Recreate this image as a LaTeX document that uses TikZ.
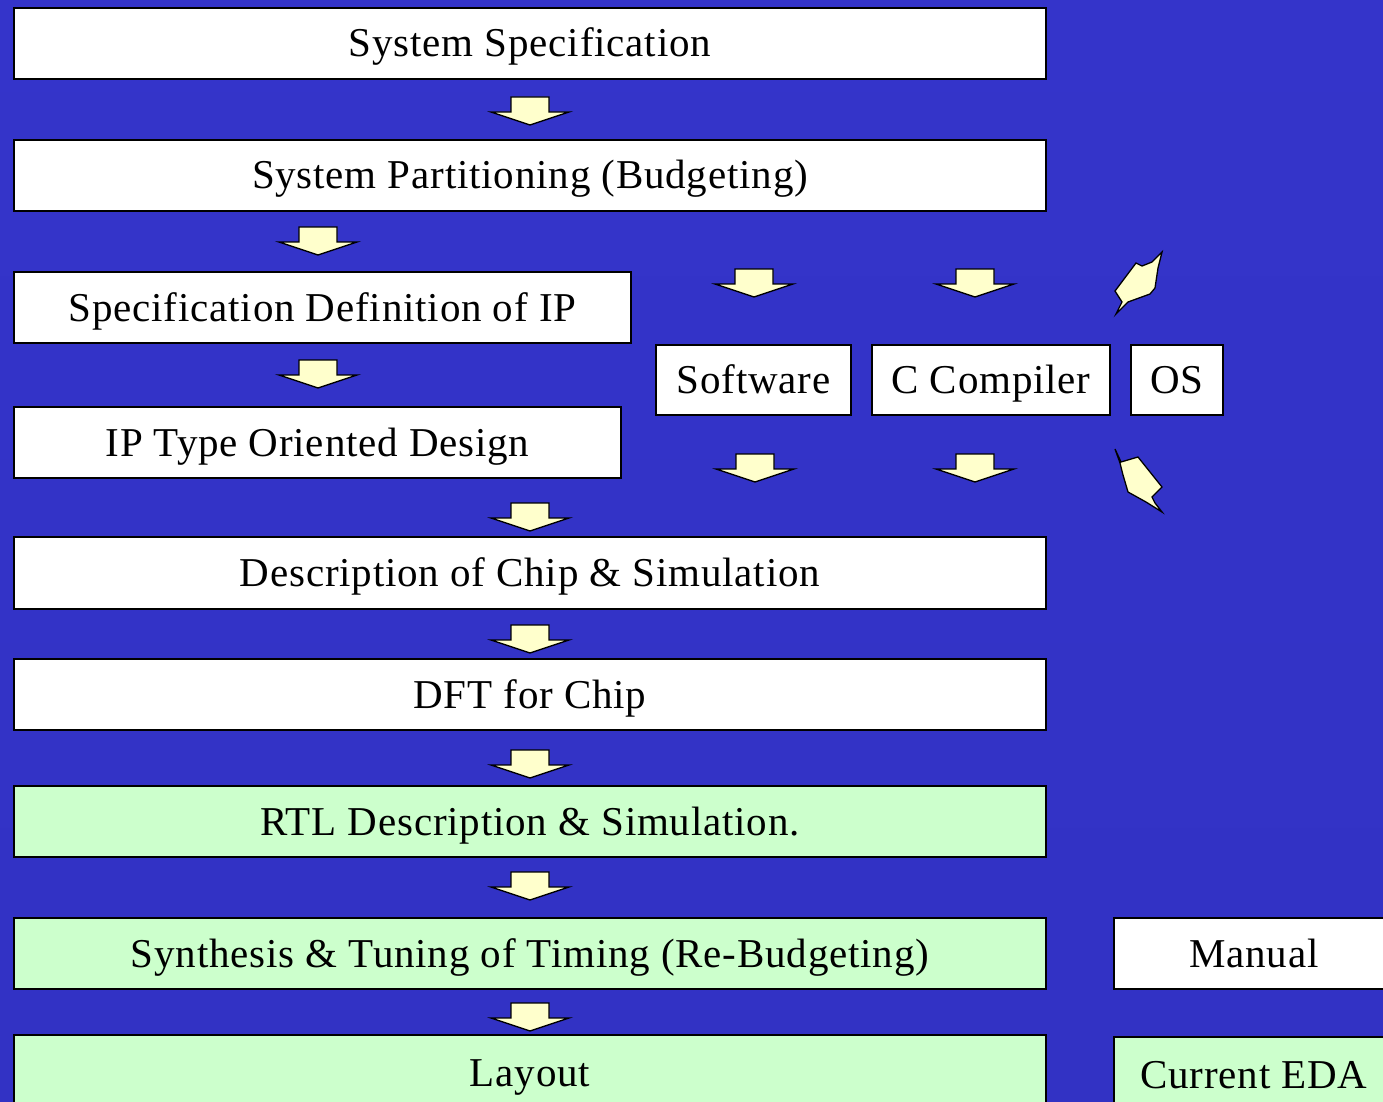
\documentclass[tikz,border=0pt]{standalone}
\usepackage{fontspec}
\setmainfont[LetterSpace=2]{Liberation Serif}
\definecolor{bgtop}{HTML}{3434CA}
\definecolor{bgmid}{HTML}{2A29A8}
\definecolor{bgbot}{HTML}{3232C4}
\definecolor{boxgreen}{HTML}{CCFFCC}
\definecolor{arrowyellow}{HTML}{FFFFCC}
\newcommand{\yarrow}[2]{%
  \filldraw[arrowstyle] (#1-19,#2) -- (#1+19,#2) -- (#1+19,#2+15) -- (#1+39,#2+15)
    -- (#1,#2+28) -- (#1-39,#2+15) -- (#1-19,#2+15) -- cycle;}
\tikzset{
  flowbox/.style={draw=black, line width=2pt, fill=white, inner sep=0pt, outer sep=0pt,
    anchor=north west, font=\fontsize{41}{48}\selectfont, text=black,
    text height=27pt, text depth=0pt},
  greenbox/.style={flowbox, fill=boxgreen},
  arrowstyle/.style={fill=arrowyellow, draw=black, line width=1.3pt, line join=miter}
}
\begin{document}
\begin{tikzpicture}[x=1pt,y=-1pt]
\useasboundingbox (0,0) rectangle (1383,1102);
\clip (0,0) rectangle (1383,1102);
\shade[top color=bgtop, middle color=bgmid, bottom color=bgbot] (0,0) rectangle (1383,1102);

\node[flowbox, minimum width=1032pt, minimum height=71pt] (spec) at (14,8) {System Specification};
\node[flowbox, minimum width=1032pt, minimum height=71pt] (part) at (14,140) {System Partitioning (Budgeting)};
\node[flowbox, minimum width=617pt, minimum height=71pt] (ipdef) at (14,272) {Specification Definition of IP};
\node[flowbox, minimum width=607pt, minimum height=71pt] (iptype) at (14,407) {IP Type Oriented Design};
\node[flowbox, minimum width=1032pt, minimum height=72pt] (desc) at (14,537) {Description of Chip \& Simulation};
\node[flowbox, minimum width=1032pt, minimum height=71pt] (dft) at (14,659) {DFT for Chip};
\node[greenbox, minimum width=1032pt, minimum height=71pt] (rtl) at (14,786) {RTL Description \& Simulation.};
\node[greenbox, minimum width=1032pt, minimum height=71pt] (synth) at (14,918) {Synthesis \& Tuning of Timing (Re-Budgeting)};
\node[greenbox, minimum width=1032pt, minimum height=76pt] (layout) at (14,1035) {Layout};

\node[flowbox, minimum width=195pt, minimum height=70pt] (sw) at (656,345) {Software};
\node[flowbox, minimum width=238pt, minimum height=70pt] (cc) at (872,345) {C Compiler};
\node[flowbox, minimum width=92pt, minimum height=70pt] (os) at (1131,345) {OS};

\node[flowbox, minimum width=280pt, minimum height=71pt] (manual) at (1114,918) {Manual};
\node[greenbox, minimum width=280pt, minimum height=76pt] (eda) at (1114,1037) {Current EDA};

\yarrow{530}{97}
\yarrow{318}{227}
\yarrow{318}{360}
\yarrow{530}{503}
\yarrow{530}{625}
\yarrow{530}{750}
\yarrow{530}{872}
\yarrow{530}{1003}
\yarrow{754}{269}
\yarrow{975}{269}
\yarrow{755}{454}
\yarrow{975}{454}

\filldraw[arrowstyle] (1162,252) -- (1158,268) -- (1155,288) -- (1150,294) -- (1128,302)
  -- (1116,314) -- (1122,302) -- (1115,291) -- (1136,263) -- (1142,266) -- (1152,262) -- cycle;
\filldraw[arrowstyle] (1115,449) -- (1121,462) -- (1138,457) -- (1162,487) -- (1152,497)
  -- (1155,503) -- (1162,512) -- (1146,502) -- (1128,492) -- (1123,475) -- (1120,463) -- cycle;
\end{tikzpicture}
\end{document}
